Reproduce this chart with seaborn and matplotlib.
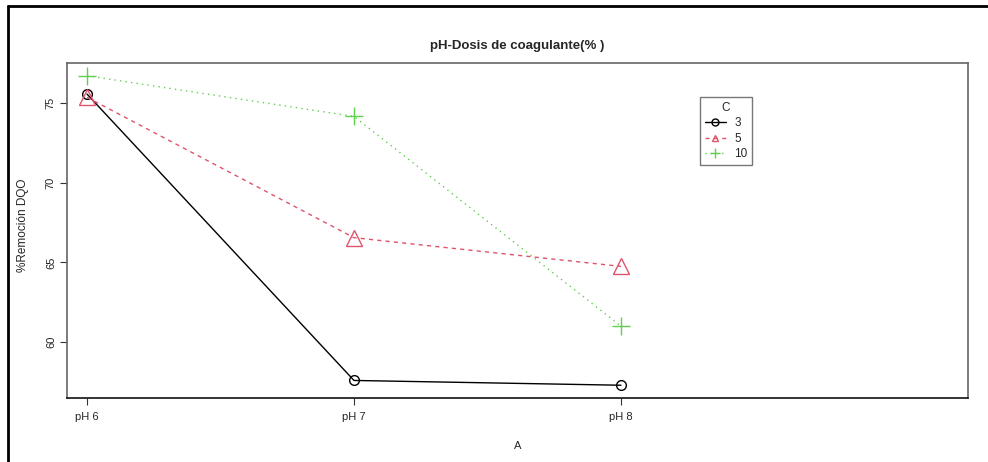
import matplotlib
matplotlib.use("Agg")
import matplotlib.pyplot as plt
import seaborn as sns
import pandas as pd
from matplotlib.lines import Line2D

# Data
ph_levels = ["pH 6", "pH 7", "pH 8"]
c3 = [75.55, 57.6, 57.3]
c5 = [75.35, 66.55, 64.75]
c10 = [76.7, 74.15, 61.0]
doses = ["3", "5", "10"]

df = pd.DataFrame({
    "A": ph_levels * 3,
    "C": [d for d in doses for _ in ph_levels],
    "val": c3 + c5 + c10,
})

sns.set_style("white")
plt.rcParams['font.family'] = ['Liberation Sans', 'DejaVu Sans']

fig = plt.figure(figsize=(9.88, 4.62), dpi=100)
ax = fig.add_axes([67/988, 1-398/462, (968-67)/988, (398-63)/462])

colors = {"3": "black", "5": "#DF536B", "10": "#61D04F"}
styles = {"3": "-", "5": (0, (3, 3)), "10": (0, (1, 3))}
markers = {"3": "o", "5": "^", "10": "+"}
msizes = {"3": 7, "5": 12, "10": 13}

for d in doses:
    sub = df[df["C"] == d]
    sns.lineplot(data=sub, x="A", y="val", ax=ax, color=colors[d],
                 linestyle=styles[d], linewidth=1.0, marker=markers[d],
                 markersize=msizes[d], markerfacecolor="none",
                 markeredgecolor=colors[d], markeredgewidth=1.0,
                 legend=False, sort=False)

ax.set_xlim(-0.075, 3.3)
ax.set_ylim(56.5, 77.5)
ax.set_xticks(range(len(ph_levels)))
ax.set_xticklabels(ph_levels)
ax.set_yticks([60, 65, 70, 75])
ax.set_yticklabels(["60", "65", "70", "75"], rotation=90, va="center")
ax.tick_params(axis="both", direction="out", length=5, width=0.8,
               color="#333333", labelsize=8, left=True, bottom=True)
ax.tick_params(axis="y", pad=3)
ax.tick_params(axis="x", pad=5)
for s in ax.spines.values():
    s.set_color("#666666")
    s.set_linewidth(1.2)
ax.spines["bottom"].set_color("#111111")

ax.set_xlabel("A", fontsize=8, labelpad=14)
ax.set_ylabel("%Remoción DQO", fontsize=8.5)
ax.yaxis.set_label_coords(-0.042, 0.515)
ax.set_title("pH-Dosis de coagulante(% )", fontsize=9.5, fontweight="bold", pad=10)

handles = [Line2D([0], [0], color=colors[d], linestyle=styles[d], linewidth=1.0,
                  marker=markers[d], markersize=5 if d != "10" else 7,
                  markerfacecolor="none", markeredgecolor=colors[d])
           for d in doses]
leg = ax.legend(handles, doses, title="C", loc="upper left",
                bbox_to_anchor=((700-67)/901, (398-97)/335),
                fontsize=8.5, title_fontsize=8.5, frameon=True, fancybox=False,
                handlelength=1.8, borderpad=0.4, labelspacing=0.3,
                handletextpad=0.7, borderaxespad=0)
leg.get_frame().set_edgecolor("#555555")
leg.get_frame().set_linewidth(1.0)

# outer partial frame (top and left)
fig.add_artist(Line2D([8/988, 1.0], [1-6/462, 1-6/462], color="black", linewidth=2,
                      transform=fig.transFigure))
fig.add_artist(Line2D([8/988, 8/988], [0.0, 1-6/462], color="black", linewidth=2,
                      transform=fig.transFigure))

fig.savefig("out.png", dpi=100)
